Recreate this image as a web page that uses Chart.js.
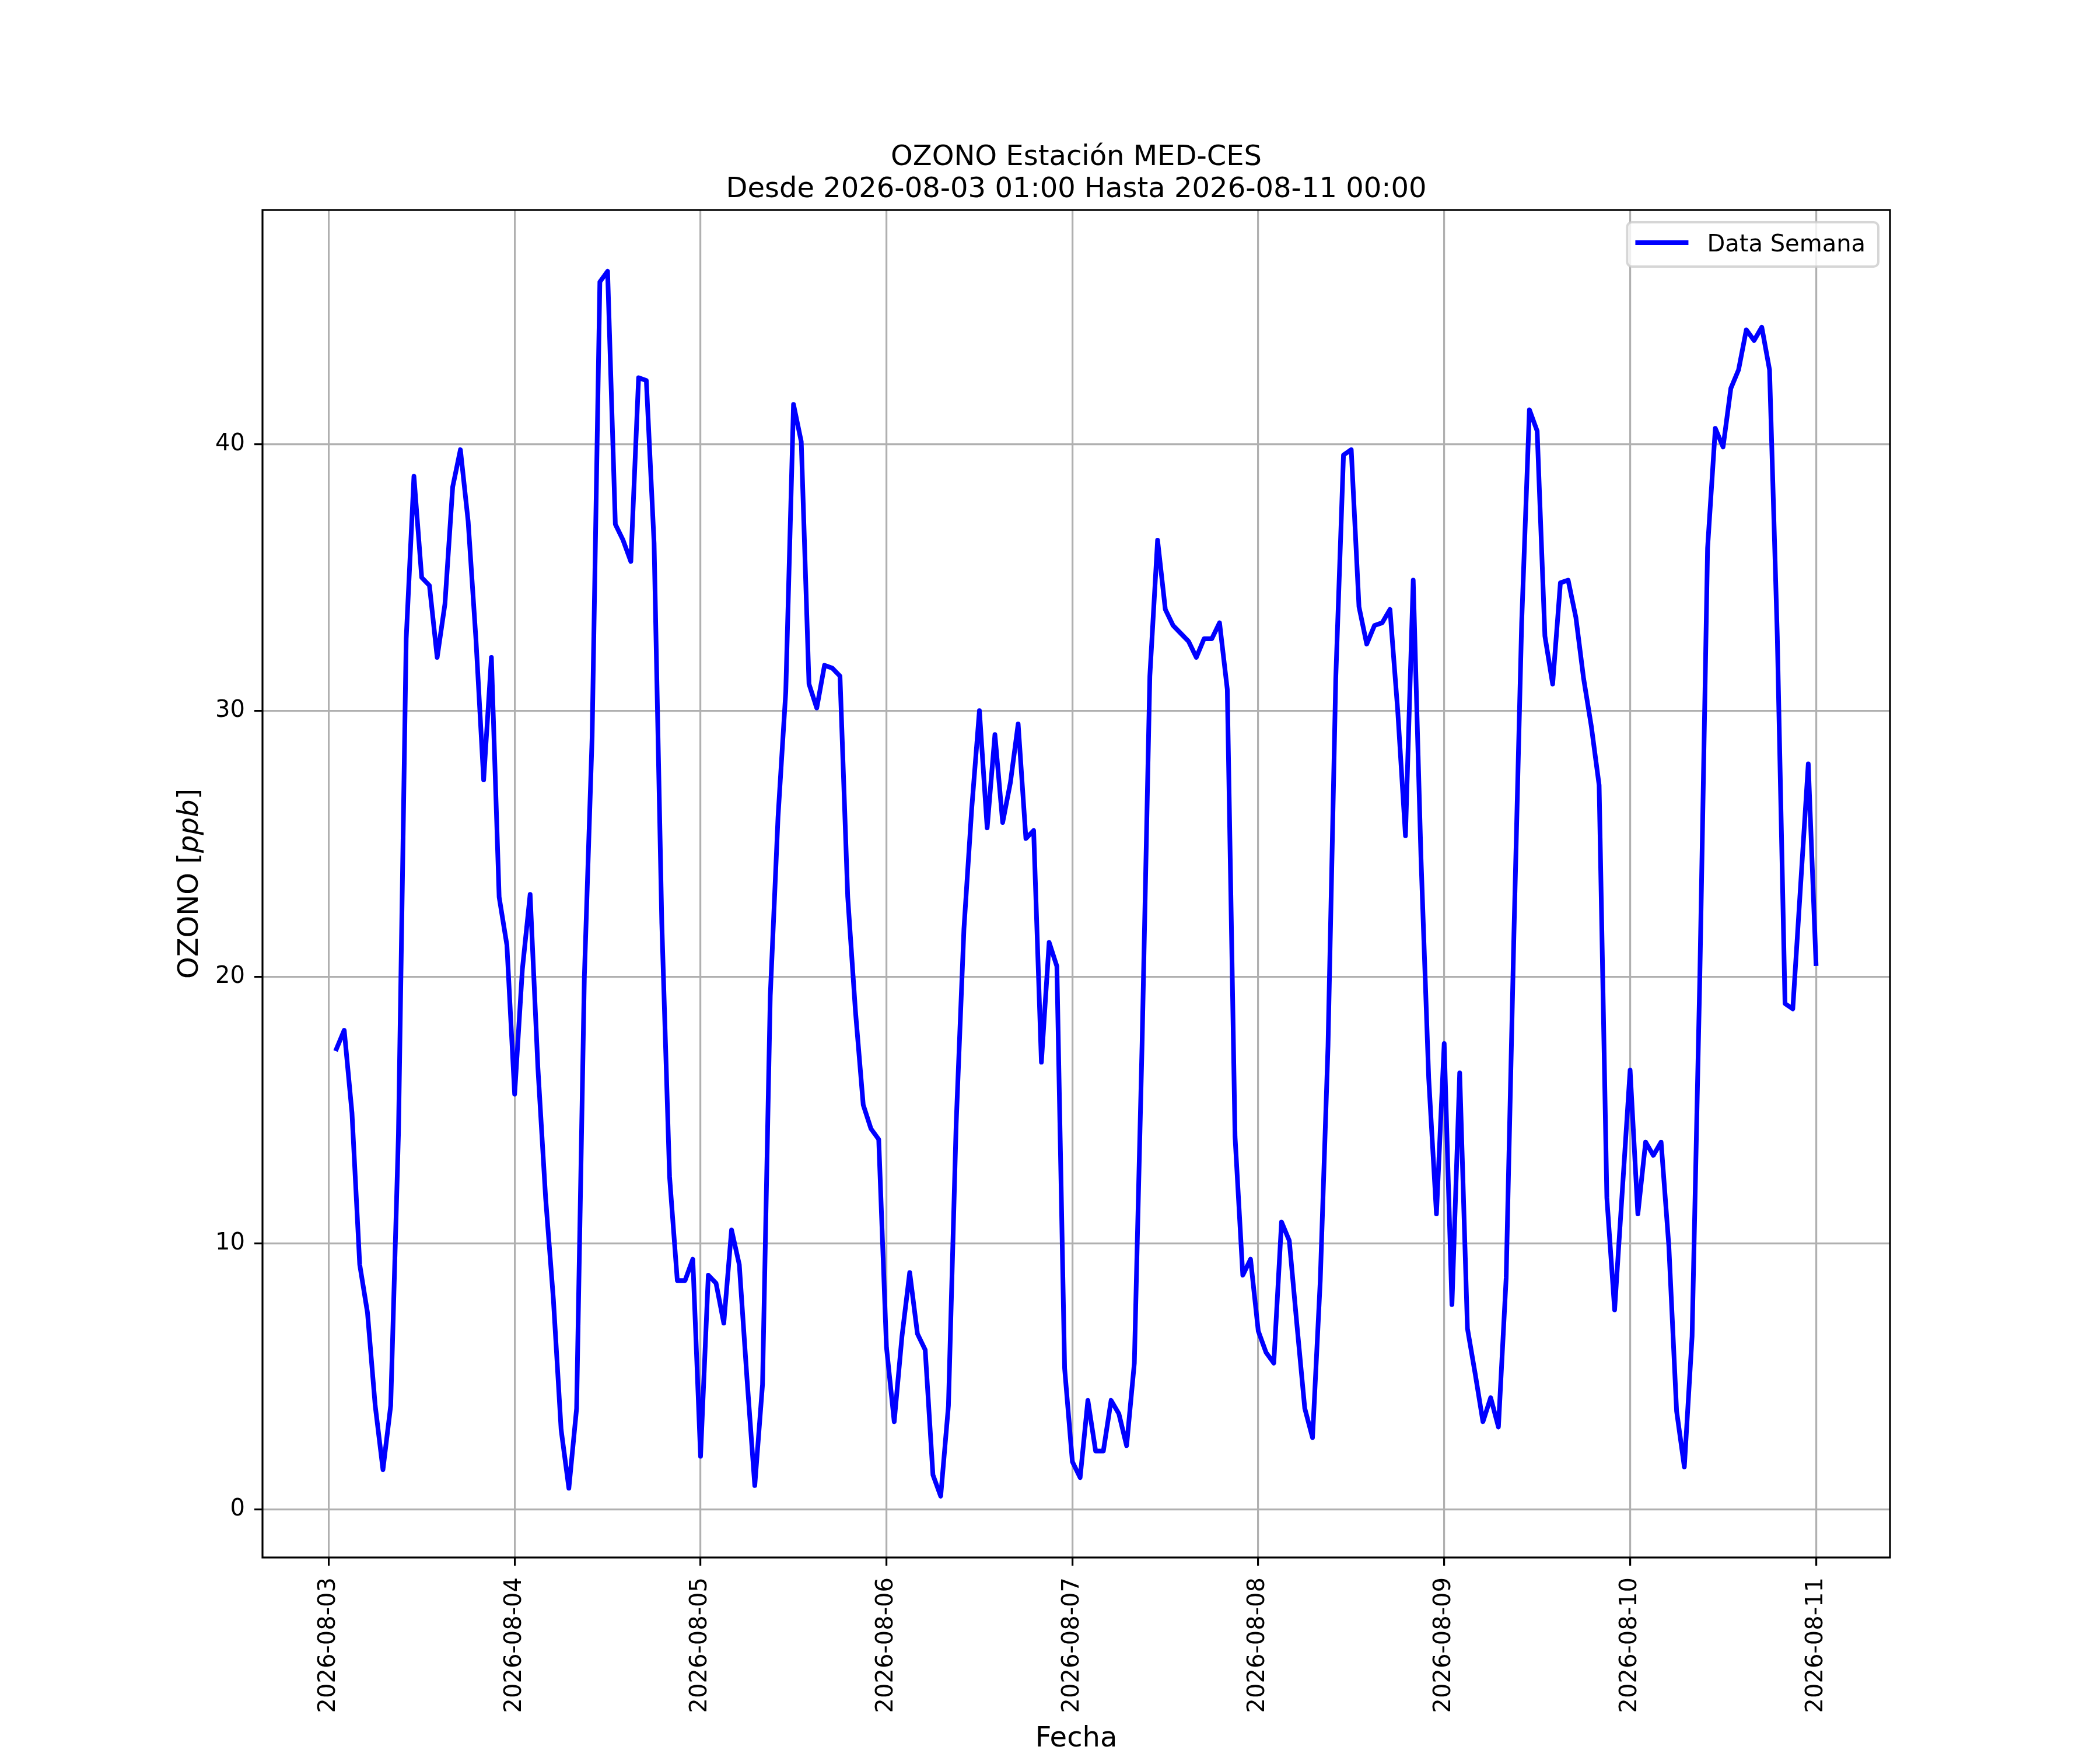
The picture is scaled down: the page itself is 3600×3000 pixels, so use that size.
<!DOCTYPE html>
<html>
<head>
<meta charset="utf-8">
<script src="https://cdn.jsdelivr.net/npm/chart.js@4.4.1/dist/chart.umd.min.js"></script>
<style>
  html, body { margin: 0; padding: 0; background: #fff; }
  #wrap { width: 3600px; height: 3000px; }
</style>
</head>
<body>
<div id="wrap"><canvas id="ozonoChart" width="3600" height="3000"></canvas></div>
<script>
// hourly values, 2026-08-03 01:00 -> 2026-08-11 00:00
var ozono = [
    17.3, 18.0, 14.9, 9.2, 7.4, 3.9, 1.5, 3.9, 14.1, 32.7, 38.8, 35.0,
    34.7, 32.0, 34.0, 38.4, 39.8, 37.1, 32.7, 27.4, 32.0, 23.0, 21.2, 15.6,
    20.3, 23.1, 16.6, 11.7, 7.9, 3.0, 0.8, 3.8, 20.0, 29.0, 46.1, 46.5,
    37.0, 36.4, 35.6, 42.5, 42.4, 36.3, 22.0, 12.5, 8.6, 8.6, 9.4, 2.0,
    8.8, 8.5, 7.0, 10.5, 9.2, 4.9, 0.9, 4.7, 19.3, 26.0, 30.7, 41.5,
    40.1, 31.0, 30.1, 31.7, 31.6, 31.3, 23.0, 18.7, 15.2, 14.3, 13.9, 6.1,
    3.3, 6.5, 8.9, 6.6, 6.0, 1.3, 0.5, 3.9, 14.5, 21.8, 26.3, 30.0,
    25.6, 29.1, 25.8, 27.3, 29.5, 25.2, 25.5, 16.8, 21.3, 20.4, 5.3, 1.8,
    1.2, 4.1, 2.2, 2.2, 4.1, 3.6, 2.4, 5.5, 17.5, 31.3, 36.4, 33.8,
    33.2, 32.9, 32.6, 32.0, 32.7, 32.7, 33.3, 30.8, 14.0, 8.8, 9.4, 6.7,
    5.9, 5.5, 10.8, 10.1, 6.9, 3.8, 2.7, 8.6, 17.4, 31.2, 39.6, 39.8,
    33.9, 32.5, 33.2, 33.3, 33.8, 30.0, 25.3, 34.9, 24.5, 16.2, 11.1, 17.5,
    7.7, 16.4, 6.8, 5.1, 3.3, 4.2, 3.1, 8.7, 21.6, 33.3, 41.3, 40.5,
    32.8, 31.0, 34.8, 34.9, 33.5, 31.2, 29.4, 27.2, 11.7, 7.5, 12.0, 16.5,
    11.1, 13.8, 13.3, 13.8, 9.9, 3.7, 1.6, 6.5, 20.0, 36.1, 40.6, 39.9,
    42.1, 42.8, 44.3, 43.9, 44.4, 42.8, 32.8, 19.0, 18.8, 23.4, 28.0, 20.5
];

// x positions are hours counted from 2026-08-03 00:00
var dayTicks = [0, 24, 48, 72, 96, 120, 144, 168, 192];
var dayLabels = ['2026-08-03', '2026-08-04', '2026-08-05', '2026-08-06', '2026-08-07',
                 '2026-08-08', '2026-08-09', '2026-08-10', '2026-08-11'];
var yTicks = [0, 10, 20, 30, 40];

var titleLines = ['OZONO Estación MED-CES', 'Desde 2026-08-03 01:00 Hasta 2026-08-11 00:00'];
var seriesName = 'Data Semana';

var points = ozono.map(function (v, i) { return {x: i + 1, y: v}; });

var FONT = '"DejaVu Sans", sans-serif';

// box round the plot, like the matplotlib spines
var framePlugin = {
    id: 'frame',
    afterDraw: function (chart) {
        var a = chart.chartArea, ctx = chart.ctx;
        ctx.save();
        ctx.strokeStyle = '#000';
        ctx.lineWidth = 3.2;
        ctx.strokeRect(a.left, a.top, a.right - a.left, a.bottom - a.top);
        ctx.restore();
    }
};

// y label with the italic unit
var yLabelPlugin = {
    id: 'yLabel',
    afterDraw: function (chart) {
        var ctx = chart.ctx;
        var parts = [['OZONO [', 'normal 48px ' + FONT], ['ppb', 'italic 48px ' + FONT], [']', 'normal 48px ' + FONT]];
        ctx.save();
        var total = 0;
        parts.forEach(function (p) { ctx.font = p[1]; total += ctx.measureText(p[0]).width; });
        var mid = (chart.chartArea.top + chart.chartArea.bottom) / 2;
        ctx.translate(339, mid);
        ctx.rotate(-Math.PI / 2);
        ctx.fillStyle = '#000';
        ctx.textBaseline = 'alphabetic';
        ctx.textAlign = 'left';
        var x = -total / 2;
        parts.forEach(function (p) {
            ctx.font = p[1];
            ctx.fillText(p[0], x, 0);
            x += ctx.measureText(p[0]).width;
        });
        ctx.restore();
    }
};

// matplotlib style legend in the upper right corner
var legendPlugin = {
    id: 'mplLegend',
    afterDatasetsDraw: function (chart) {
        var ctx = chart.ctx, a = chart.chartArea;
        var ds = chart.data.datasets[0];
        ctx.save();
        ctx.font = '40px ' + FONT;
        var tw = ctx.measureText(ds.label).width;
        var right = a.right - 20, top = a.top + 21;
        var w = 137 + tw + 22, h = 76;
        var left = right - w;
        ctx.beginPath();
        ctx.roundRect(left, top, w, h, 8);
        ctx.fillStyle = 'rgba(255,255,255,0.8)';
        ctx.fill();
        ctx.lineWidth = 4;
        ctx.strokeStyle = 'rgba(204,204,204,0.8)';
        ctx.stroke();
        ctx.beginPath();
        ctx.moveTo(left + 14, top + 35);
        ctx.lineTo(left + 105, top + 35);
        ctx.lineWidth = 8;
        ctx.strokeStyle = ds.borderColor;
        ctx.stroke();
        ctx.fillStyle = '#000';
        ctx.textBaseline = 'alphabetic';
        ctx.fillText(ds.label, left + 137, top + 50);
        ctx.restore();
    }
};

new Chart(document.getElementById('ozonoChart'), {
    type: 'line',
    data: {
        datasets: [{
            label: seriesName,
            data: points,
            borderColor: '#0000ff',
            backgroundColor: '#0000ff',
            borderWidth: 8,
            borderJoinStyle: 'round',
            borderCapStyle: 'square',
            pointRadius: 0,
            tension: 0,
            fill: false
        }]
    },
    options: {
        responsive: false,
        animation: false,
        devicePixelRatio: 1,
        layout: {padding: {left: 0, right: 360, top: 0, bottom: 0}},
        plugins: {
            legend: {display: false},
            tooltip: {enabled: false},
            title: {
                display: true,
                fullSize: false,
                text: titleLines,
                color: '#000',
                font: {family: FONT, size: 48, weight: 'normal', lineHeight: 1.1458},
                padding: {top: 243, bottom: 7}
            }
        },
        scales: {
            x: {
                type: 'linear',
                min: -8.55,
                max: 201.55,
                afterBuildTicks: function (scale) {
                    scale.ticks = dayTicks.map(function (v) { return {value: v}; });
                },
                afterFit: function (scale) { scale.height = 330; },
                ticks: {
                    autoSkip: false,
                    minRotation: 90,
                    maxRotation: 90,
                    padding: 20,
                    color: '#000',
                    font: {family: FONT, size: 40},
                    callback: function (v) { return dayLabels[dayTicks.indexOf(v)]; }
                },
                grid: {color: '#b0b0b0', lineWidth: 3.2, tickLength: 14, tickColor: '#000', tickWidth: 3.2},
                border: {display: false},
                title: {
                    display: true,
                    text: 'Fecha',
                    color: '#000',
                    font: {family: FONT, size: 48, lineHeight: 0.76},
                    padding: 0
                }
            },
            y: {
                type: 'linear',
                min: -1.8,
                max: 48.8,
                afterBuildTicks: function (scale) {
                    scale.ticks = yTicks.map(function (v) { return {value: v}; });
                },
                afterFit: function (scale) { scale.width = 450; },
                ticks: {
                    padding: 16,
                    color: '#000',
                    font: {family: FONT, size: 40}
                },
                grid: {color: '#b0b0b0', lineWidth: 3.2, tickLength: 14, tickColor: '#000', tickWidth: 3.2},
                border: {display: false}
            }
        }
    },
    plugins: [framePlugin, yLabelPlugin, legendPlugin]
});
</script>
</body>
</html>
